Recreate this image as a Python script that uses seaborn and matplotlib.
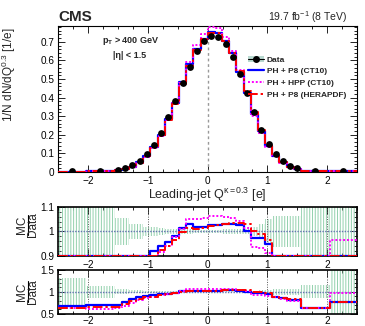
import numpy as np
import matplotlib
matplotlib.use("Agg")
import matplotlib.pyplot as plt
import seaborn as sns
from matplotlib.lines import Line2D
from matplotlib.patches import Patch
from matplotlib.legend_handler import HandlerTuple
from matplotlib.ticker import MultipleLocator, FuncFormatter

# ---------------- data ----------------
bin_edges = [-2.5, -2.04, -1.56, -1.44, -1.32, -1.20, -1.08, -0.96, -0.84, -0.72,
             -0.60, -0.48, -0.36, -0.24, -0.12, 0.0, 0.12, 0.24, 0.36, 0.48,
             0.60, 0.72, 0.84, 0.96, 1.08, 1.20, 1.32, 1.44, 1.56, 2.04, 2.5]

data_values = [0.002, 0.004, 0.011, 0.020, 0.034, 0.058, 0.095, 0.144, 0.210, 0.296,
               0.380, 0.476, 0.562, 0.650, 0.704, 0.732, 0.727, 0.686, 0.619, 0.526,
               0.422, 0.323, 0.225, 0.149, 0.095, 0.059, 0.032, 0.018, 0.005, 0.003]

data_rel_err = [0.32, 0.14, 0.055, 0.055, 0.03, 0.03, 0.02, 0.02, 0.015, 0.012,
                0.01, 0.01, 0.01, 0.008, 0.008, 0.008, 0.008, 0.01, 0.01, 0.01,
                0.012, 0.02, 0.03, 0.05, 0.065, 0.065, 0.065, 0.065, 0.15, 0.6]

ratio_p8_ct10 = [0.67, 0.69, 0.70, 0.77, 0.83, 0.87, 0.895, 0.921, 0.940, 0.958,
                 0.981, 1.013, 1.029, 1.020, 1.020, 1.026, 1.028, 1.031, 1.031, 1.027,
                 1.003, 0.972, 0.972, 0.948, 0.89, 0.86, 0.82, 0.82, 0.62, 0.77]

ratio_hpp_ct10 = [0.63, 0.60, 0.62, 0.68, 0.75, 0.81, 0.85, 0.89, 0.915, 0.94,
                  0.975, 1.01, 1.052, 1.052, 1.056, 1.065, 1.065, 1.06, 1.055, 1.045,
                  1.013, 0.937, 0.93, 0.912, 0.87, 0.83, 0.79, 0.80, 0.62, 0.965]

ratio_p8_hera = [0.63, 0.64, 0.66, 0.72, 0.79, 0.84, 0.875, 0.89, 0.925, 0.941,
                 0.966, 0.997, 1.014, 1.01, 1.015, 1.022, 1.025, 1.03, 1.035, 1.035,
                 1.03, 1.0, 0.99, 0.965, 0.89, 0.86, 0.83, 0.83, 0.62, 0.77]

series_labels = ["PH + P8 (CT10)", "PH + HPP (CT10)", "PH + P8 (HERAPDF)"]
x_ticks = [-2, -1, 0, 1, 2]
main_y_ticks = [0, 0.1, 0.2, 0.3, 0.4, 0.5, 0.6, 0.7]

# ---------------- style ----------------
sns.set_style("ticks")
plt.rcParams["font.family"] = ["Liberation Sans", "DejaVu Sans"]
plt.rcParams["mathtext.fontset"] = "custom"
plt.rcParams["mathtext.rm"] = "Liberation Sans"
plt.rcParams["mathtext.it"] = "Liberation Sans:italic"
plt.rcParams["mathtext.bf"] = "Liberation Sans:bold"
plt.rcParams["hatch.linewidth"] = 0.7
plt.rcParams["axes.linewidth"] = 0.8

edges = np.array(bin_edges)
centers = 0.5 * (edges[:-1] + edges[1:])
data = np.array(data_values)
rel = np.array(data_rel_err)
ratios = [np.array(ratio_p8_ct10), np.array(ratio_hpp_ct10), np.array(ratio_p8_hera)]
mcs = [data * r for r in ratios]

colors = ["#0000ff", "#ff00ff", "#ff0000"]
styles = ["-", (0, (1, 1)), (0, (5, 1.5, 1.2, 1.5))]
widths = [1.6, 1.4, 1.4]

fig = plt.figure(figsize=(3.65, 3.26), dpi=100)
ax = fig.add_axes([0.160, 0.473, 0.818, 0.447])
r1 = fig.add_axes([0.160, 0.216, 0.818, 0.148])
r2 = fig.add_axes([0.160, 0.038, 0.818, 0.134])


def ext(v):
    return np.append(v, v[-1])


def style_axis(a, fs=7.2, xpad=3):
    a.tick_params(axis="both", which="both", direction="in", top=True, right=True,
                  labelsize=fs, colors="black")
    a.tick_params(which="major", length=5, width=0.6)
    a.tick_params(which="minor", length=2.5, width=0.6)
    a.tick_params(axis="x", pad=xpad)
    a.tick_params(axis="y", pad=3)
    for s in a.spines.values():
        s.set_color("black")


fmt = FuncFormatter(lambda v, p: "0" if abs(v) < 1e-9 else ("%g" % round(v, 2)))

# ---------------- main panel ----------------
ax.axvline(0, color="#999999", lw=1.0, ls=(0, (2, 2)), zorder=1)
for mc, c, ls, lw in zip(mcs, colors, styles, widths):
    sns.lineplot(x=edges, y=ext(mc), ax=ax, color=c, linestyle=ls, lw=lw,
                 drawstyle="steps-post", estimator=None, sort=False, zorder=3)
ax.errorbar(centers, data, yerr=data * rel, fmt="none", ecolor="black", elinewidth=0.8,
            zorder=4)
sns.scatterplot(x=centers, y=data, ax=ax, color="black", s=24, edgecolor="black",
                linewidth=0, zorder=5)
ax.set_xlim(-2.5, 2.5)
ax.set_ylim(0, 0.785)
ax.set_xticks(x_ticks)
ax.set_yticks(main_y_ticks)
ax.xaxis.set_minor_locator(MultipleLocator(0.25))
ax.yaxis.set_minor_locator(MultipleLocator(0.02))
ax.yaxis.set_major_formatter(fmt)
style_axis(ax)
ax.set_xlabel(r"Leading-jet Q$^{\mathrm{κ=0.3}}$ [e]", fontsize=9, labelpad=0)
ax.set_ylabel(r"1/N dN/dQ$^{0.3}$ [1/e]", fontsize=8.5, labelpad=4)
ax.yaxis.set_label_coords(-0.135, 0.665)

ax.text(0.146, 0.897, r"p$_{\mathbf{T}}$ > 400 GeV", transform=ax.transAxes,
        fontsize=6.5, fontweight="bold", va="center", ha="left")
ax.text(0.183, 0.801, "|η| < 1.5", transform=ax.transAxes,
        fontsize=6.5, fontweight="bold", va="center", ha="left")

handles = [
    (Patch(facecolor="#b9d9d0", edgecolor="none"),
     Line2D([], [], marker="o", color="black", markersize=4, linestyle="-", lw=0.8)),
    Line2D([], [], color=colors[0], ls=styles[0], lw=widths[0]),
    Line2D([], [], color=colors[1], ls=styles[1], lw=widths[1]),
    Line2D([], [], color=colors[2], ls=styles[2], lw=widths[2]),
]
leg = ax.legend(handles, ["Data"] + series_labels, loc="upper left",
                bbox_to_anchor=(0.635, 0.795), frameon=False, borderpad=0,
                borderaxespad=0, handlelength=1.9, handletextpad=0.35,
                labelspacing=0.45, prop={"size": 6, "weight": "bold"},
                handler_map={tuple: HandlerTuple(ndivide=1)})

fig.text(0.159, 0.937, "CMS", fontsize=11, fontweight="bold", ha="left", va="baseline")
fig.text(0.951, 0.937, r"19.7 fb$^{-1}$ (8 TeV)", fontsize=7.5, ha="right", va="baseline")

# ---------------- ratio panels ----------------
for r, lo, hi, major, minor, lbl_y, xpad in [(r1, 0.9, 1.1, [0.9, 1.0, 1.1], 0.02, 0.635, 3),
                                             (r2, 0.5, 1.5, [0.5, 1.0, 1.5], 0.1, 0.5, 1.5)]:
    r.fill_between(edges, ext(1 - rel), ext(1 + rel), step="post", facecolor="none",
                   edgecolor="#93d1ad", hatch="||||||", linewidth=0, zorder=1)
    for xv in x_ticks:
        r.axvline(xv, color="#555555", lw=0.7, ls=(0, (1, 1.5)), zorder=2)
    r.axhline(1.0, color="#6575b0", lw=1.0, ls=(0, (1, 1)), zorder=2)
    for rv, c, ls, lw in zip(ratios, colors, styles, widths):
        sns.lineplot(x=edges, y=ext(np.clip(rv, lo, hi)), ax=r, color=c, linestyle=ls,
                     lw=lw, drawstyle="steps-post", estimator=None, sort=False, zorder=3)
    r.set_xlim(-2.5, 2.5)
    r.set_ylim(lo, hi)
    r.set_xticks(x_ticks)
    r.set_yticks(major)
    r.xaxis.set_minor_locator(MultipleLocator(0.25))
    r.yaxis.set_minor_locator(MultipleLocator(minor))
    r.yaxis.set_major_formatter(fmt)
    style_axis(r, xpad=xpad)
    r.set_xlabel("")
    r.set_ylabel("")
    for s in r.spines.values():
        s.set_linewidth(1.2)
    # MC / Data fraction label
    bb = r.get_position()
    yc = bb.y0 + lbl_y * bb.height
    fig.text(0.0600, yc, "MC", rotation=90, fontsize=8.5, ha="center", va="center")
    fig.text(0.0915, yc, "Data", rotation=90, fontsize=8.5, ha="center", va="center")
    fig.add_artist(Line2D([0.0767, 0.0767], [yc - 0.032, yc + 0.032],
                          transform=fig.transFigure, color="black", lw=0.8))

fig.savefig("out.png", dpi=100)
